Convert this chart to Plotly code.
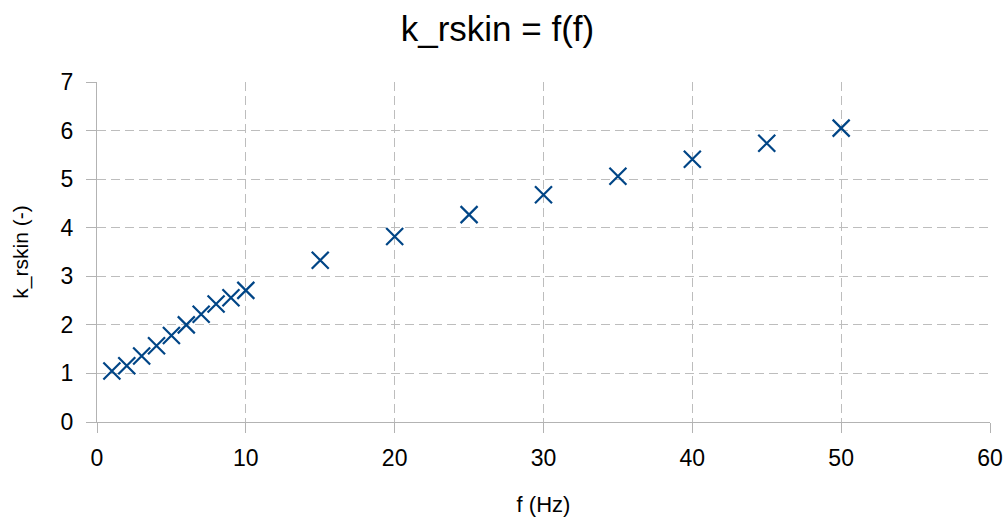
import plotly.graph_objects as go

freq = [1, 2, 3, 4, 5, 6, 7, 8, 9, 10, 15, 20, 25, 30, 35, 40, 45, 50]
k_rskin = [1.05, 1.16, 1.36, 1.57, 1.78, 2.0, 2.22, 2.43, 2.56, 2.71,
           3.33, 3.82, 4.27, 4.68, 5.06, 5.41, 5.74, 6.05]

fig = go.Figure()
fig.add_trace(go.Scatter(
    x=freq, y=k_rskin, mode="markers",
    marker=dict(symbol="x-thin", size=17, line=dict(width=2.2, color="#004586"), color="#004586"),
    showlegend=False,
))

axis_common = dict(
    showgrid=True, gridcolor="#bdbdbd", griddash="9px,5px", gridwidth=1,
    showline=True, linecolor="#b3b3b3", linewidth=1,
    ticks="outside", ticklen=10, tickcolor="#b3b3b3",
    zeroline=False, automargin=False,
    tickfont=dict(family="Liberation Sans", size=23, color="#000000"),
)

fig.update_layout(
    width=1007, height=517,
    paper_bgcolor="white", plot_bgcolor="white",
    margin=dict(l=97, r=17, t=82, b=95),
    title=dict(text="k_rskin = f(f)", x=0.494, xanchor="center", y=0.945, yanchor="middle",
               font=dict(family="Liberation Sans", size=35, color="#000000")),
    xaxis=dict(range=[0, 60], dtick=10, ticklabelstandoff=5,
               title=dict(text="f (Hz)", font=dict(family="Liberation Sans", size=22, color="#000000"), standoff=33),
               **axis_common),
    yaxis=dict(range=[0, 7], dtick=1, ticklabelstandoff=8,
               title=dict(text="k_rskin (-)", font=dict(family="Liberation Sans", size=21, color="#000000"), standoff=26),
               **axis_common),
)

fig.write_html("out.html")
